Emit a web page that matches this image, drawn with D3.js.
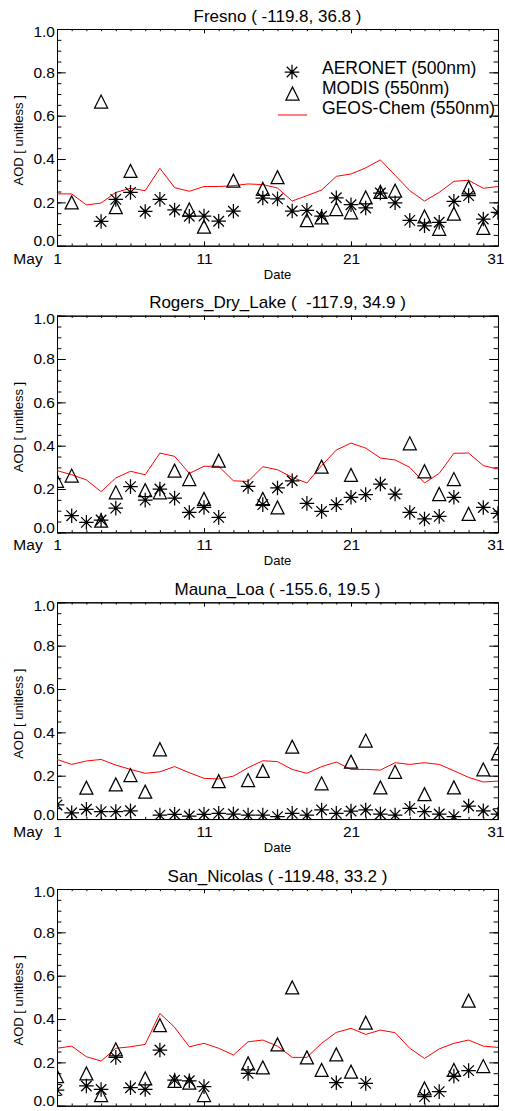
<!DOCTYPE html>
<html>
<head>
<meta charset="utf-8">
<script src="https://cdn.jsdelivr.net/npm/d3@7"></script>
<style>
  body { margin: 0; background: #fff; }
  svg { display: block; font-family: "Liberation Sans", Arial, sans-serif; }
</style>
</head>
<body>
<div id="chart"></div>
<script>
// days of May
const days = d3.range(1, 32);

const siteTitles = [
    "Fresno ( -119.8, 36.8 )",
    "Rogers_Dry_Lake (  -117.9, 34.9 )",
    "Mauna_Loa ( -155.6, 19.5 )",
    "San_Nicolas ( -119.48, 33.2 )"
];

const yMajorTicks = [0, 0.2, 0.4, 0.6, 0.8, 1.0];
const xMajorTicks = [1, 11, 21, 31];
const legendLabels = ["AERONET (500nm)", "MODIS (550nm)", "GEOS-Chem (550nm)"];

// AOD values, one per day (null = no data)
const fresnoAeronet = [null, null, null, 0.112, 0.214, 0.246, 0.158, 0.214, 0.165, 0.136, 0.137, 0.113, 0.159, null, 0.220, 0.216, 0.160, 0.163, 0.136, 0.221, 0.189, 0.174, 0.243, 0.198, 0.117, 0.092, 0.108, 0.205, 0.231, 0.123, 0.154];
const fresnoModis = [null, 0.200, null, 0.665, 0.178, 0.345, null, null, null, 0.167, 0.088, null, 0.300, null, 0.262, 0.316, null, 0.118, 0.131, 0.169, 0.154, 0.223, 0.248, 0.254, null, 0.135, 0.078, 0.148, 0.269, 0.082, null];
const fresnoGeos = [0.239, 0.239, 0.188, 0.197, 0.246, 0.265, 0.254, 0.357, 0.268, 0.251, 0.273, 0.273, 0.277, 0.285, 0.282, 0.266, 0.206, 0.231, 0.257, 0.320, 0.331, 0.359, 0.396, 0.325, 0.254, 0.206, 0.246, 0.297, 0.302, 0.265, 0.273];

const rogersAeronet = [null, 0.077, 0.046, 0.057, 0.112, 0.211, 0.149, 0.200, 0.158, 0.092, 0.115, 0.069, null, 0.212, 0.128, 0.205, 0.238, 0.134, 0.097, 0.128, 0.162, 0.174, 0.223, 0.177, 0.092, 0.062, 0.074, 0.162, null, 0.115, 0.088];
const rogersModis = [0.238, 0.262, null, 0.054, 0.185, null, 0.195, 0.185, 0.285, 0.246, 0.154, 0.331, null, null, 0.154, 0.115, null, null, 0.303, null, 0.265, null, null, null, 0.411, 0.282, 0.177, 0.246, 0.085, null, null];
const rogersGeos = [0.285, 0.266, 0.242, 0.188, 0.251, 0.282, 0.266, 0.366, 0.351, 0.272, 0.305, 0.305, 0.238, 0.235, 0.303, 0.289, 0.254, 0.228, 0.308, 0.380, 0.412, 0.389, 0.343, 0.334, 0.300, 0.228, 0.272, 0.365, 0.366, 0.308, 0.292];

const maunaAeronet = [0.065, 0.029, 0.045, 0.034, 0.034, 0.038, null, 0.018, 0.022, 0.014, 0.022, 0.026, 0.023, 0.018, 0.018, 0.011, 0.026, 0.018, 0.042, 0.026, 0.037, 0.042, 0.023, 0.018, 0.049, 0.034, 0.023, 0.011, 0.060, 0.038, 0.023];
const maunaModis = [null, null, 0.145, null, 0.160, 0.203, 0.126, 0.322, null, null, null, 0.175, null, 0.180, 0.222, null, 0.334, null, 0.165, null, 0.265, 0.362, 0.146, 0.218, null, 0.115, null, 0.146, null, 0.229, 0.303];
const maunaGeos = [0.275, 0.252, 0.268, 0.275, 0.249, 0.229, 0.211, 0.218, 0.242, 0.214, 0.188, 0.185, 0.198, 0.237, 0.269, 0.265, 0.229, 0.211, 0.242, 0.263, 0.229, 0.229, 0.226, 0.260, 0.252, 0.260, 0.252, 0.223, 0.192, 0.171, 0.175];

const sanNicolasAeronet = [0.072, null, 0.091, 0.075, 0.223, 0.083, 0.075, 0.257, 0.118, 0.115, 0.088, null, null, 0.149, null, null, null, null, null, 0.106, null, 0.103, null, null, null, 0.042, 0.065, 0.137, 0.162, null, null];
const sanNicolasModis = [0.137, null, 0.149, 0.049, 0.260, null, 0.126, 0.372, 0.115, 0.106, 0.049, null, null, 0.195, 0.177, 0.283, 0.546, 0.223, 0.165, 0.237, 0.157, 0.383, null, null, null, 0.080, null, 0.165, 0.485, 0.183, null];
const sanNicolasGeos = [0.265, 0.275, 0.226, 0.206, 0.265, 0.272, 0.283, 0.426, 0.362, 0.272, 0.288, 0.265, 0.234, 0.295, 0.303, 0.275, 0.223, 0.223, 0.288, 0.338, 0.357, 0.329, 0.349, 0.337, 0.265, 0.218, 0.262, 0.288, 0.303, 0.275, 0.269];

const panels = [
    { title: siteTitles[0], aeronet: fresnoAeronet, modis: fresnoModis, geos: fresnoGeos },
    { title: siteTitles[1], aeronet: rogersAeronet, modis: rogersModis, geos: rogersGeos },
    { title: siteTitles[2], aeronet: maunaAeronet, modis: maunaModis, geos: maunaGeos },
    { title: siteTitles[3], aeronet: sanNicolasAeronet, modis: sanNicolasModis, geos: sanNicolasGeos }
];

const width = 505;
const height = 1111;
const left = 57;
const plotW = 441;
const plotH = 216.7;
const firstTop = 29;
const panelStep = 286.67;

const svg = d3.select("#chart")
    .append("svg")
    .attr("width", width)
    .attr("height", height);

svg.append("rect").attr("width", width).attr("height", height).attr("fill", "#fff");

// IDL-like symbols
const starSize = 7.3;
const triSize = 6.5;
const symStroke = 1.25;
function asteriskPath(s) {
    const d = s * 0.72;
    return `M0,${-s}L0,${s}M${-s},0L${s},0M${-d},${-d}L${d},${d}M${d},${-d}L${-d},${d}`;
}
function trianglePath(s) {
    return `M${-s},${s}L0,${-s}L${s},${s}Z`;
}

panels.forEach((p, i) => drawPanel(p, i));

function drawPanel(p, i) {
    const top = firstTop + i * panelStep;
    const g = svg.append("g").attr("transform", `translate(${left},${top})`);

    const x = d3.scaleLinear().domain([1, 31]).range([0, plotW]);
    const y = d3.scaleLinear().domain([0, 1]).range([plotH, 0]);

    const clipId = "clip" + i;
    g.append("clipPath").attr("id", clipId)
        .append("rect").attr("width", plotW).attr("height", plotH);

    // title
    g.append("text")
        .attr("x", plotW / 2)
        .attr("y", -7.5)
        .attr("text-anchor", "middle")
        .style("font-size", "17px")
        .style("white-space", "pre")
        .text(p.title);

    // y axes
    const yMinor = d3.range(0, 1.001, 0.05);
    g.append("g").attr("class", "axis")
        .call(d3.axisLeft(y).tickValues(yMinor).tickSizeInner(-4.4).tickSizeOuter(0).tickFormat(""));
    const yLabels = g.append("g").attr("class", "axis")
        .call(d3.axisLeft(y).tickValues(yMajorTicks).tickSizeInner(-8.8).tickSizeOuter(0)
            .tickPadding(2).tickFormat(d3.format(".1f")));
    // end labels sit a little inside the frame, as in the original
    yLabels.selectAll(".tick text")
        .attr("y", d => d === 0 ? -5 : (d === 1 ? 3 : 0));
    g.append("g").attr("class", "axis").attr("transform", `translate(${plotW},0)`)
        .call(d3.axisRight(y).tickValues(yMinor).tickSizeInner(-4.4).tickSizeOuter(0).tickFormat(""));
    g.append("g").attr("class", "axis").attr("transform", `translate(${plotW},0)`)
        .call(d3.axisRight(y).tickValues(yMajorTicks).tickSizeInner(-8.8).tickSizeOuter(0).tickFormat(""));

    // x axes
    g.append("g").attr("class", "axis").attr("transform", `translate(0,${plotH})`)
        .call(d3.axisBottom(x).tickValues(days).tickSizeInner(-2.2).tickSizeOuter(0).tickFormat(""));
    const xLabels = g.append("g").attr("class", "axis").attr("transform", `translate(0,${plotH})`)
        .call(d3.axisBottom(x).tickValues(xMajorTicks).tickSizeInner(-4.3).tickSizeOuter(0)
            .tickPadding(7).tickFormat(d3.format("d")));
    // last day label is pushed against the page edge
    xLabels.selectAll(".tick text")
        .filter(d => d === 31)
        .attr("text-anchor", "end")
        .attr("x", 6);
    g.append("g").attr("class", "axis")
        .call(d3.axisTop(x).tickValues(days).tickSizeInner(-2.2).tickSizeOuter(0).tickFormat(""));
    g.append("g").attr("class", "axis")
        .call(d3.axisTop(x).tickValues(xMajorTicks).tickSizeInner(-4.3).tickSizeOuter(0).tickFormat(""));

    g.selectAll(".axis text")
        .style("font-size", "15.5px")
        .style("font-family", "'Liberation Sans', Arial, sans-serif")
        .attr("fill", "#000");
    g.selectAll(".axis path, .axis line").attr("stroke", "#000").attr("stroke-width", 1);

    // "May" before the day labels
    g.append("text")
        .attr("x", -29)
        .attr("y", plotH + 18)
        .attr("text-anchor", "middle")
        .style("font-size", "15.5px")
        .text("May");

    g.append("text")
        .attr("x", plotW / 2)
        .attr("y", plotH + 33)
        .attr("text-anchor", "middle")
        .style("font-size", "13px")
        .text("Date");

    g.append("text")
        .attr("transform", `translate(${22.5 - left},${plotH / 2 + 3}) rotate(-90)`)
        .attr("text-anchor", "middle")
        .style("font-size", "13px")
        .text("AOD [ unitless ]");

    const plot = g.append("g").attr("clip-path", `url(#${clipId})`);

    // GEOS-Chem line
    const line = d3.line()
        .defined(d => d[1] !== null)
        .x(d => x(d[0]))
        .y(d => y(d[1]));
    plot.append("path")
        .datum(days.map((d, k) => [d, p.geos[k]]))
        .attr("d", line)
        .attr("fill", "none")
        .attr("stroke", "#ff0000")
        .attr("stroke-width", 1);

    // AERONET asterisks
    plot.selectAll(".aeronet")
        .data(days.map((d, k) => [d, p.aeronet[k]]).filter(d => d[1] !== null))
        .enter()
        .append("path")
        .attr("class", "aeronet")
        .attr("transform", d => `translate(${x(d[0])},${y(d[1])})`)
        .attr("d", asteriskPath(starSize))
        .attr("fill", "none")
        .attr("stroke", "#000")
        .attr("stroke-width", symStroke);

    // MODIS triangles
    plot.selectAll(".modis")
        .data(days.map((d, k) => [d, p.modis[k]]).filter(d => d[1] !== null))
        .enter()
        .append("path")
        .attr("class", "modis")
        .attr("transform", d => `translate(${x(d[0])},${y(d[1])})`)
        .attr("d", trianglePath(triSize))
        .attr("fill", "none")
        .attr("stroke", "#000")
        .attr("stroke-width", symStroke);

    if (i === 0) drawLegend();
}

function drawLegend() {
    const lg = svg.append("g");
    lg.append("path")
        .attr("transform", "translate(292,72)")
        .attr("d", asteriskPath(starSize))
        .attr("fill", "none").attr("stroke", "#000").attr("stroke-width", symStroke);
    lg.append("path")
        .attr("transform", "translate(292.5,93.5)")
        .attr("d", trianglePath(triSize))
        .attr("fill", "none").attr("stroke", "#000").attr("stroke-width", symStroke);
    lg.append("line")
        .attr("x1", 278).attr("x2", 307)
        .attr("y1", 115).attr("y2", 115)
        .attr("stroke", "#ff0000");
    lg.selectAll("text")
        .data(legendLabels)
        .enter()
        .append("text")
        .attr("x", 322)
        .attr("y", (d, k) => 74 + k * 20)
        .style("font-size", "17.5px")
        .text(d => d);
}
</script>
</body>
</html>
